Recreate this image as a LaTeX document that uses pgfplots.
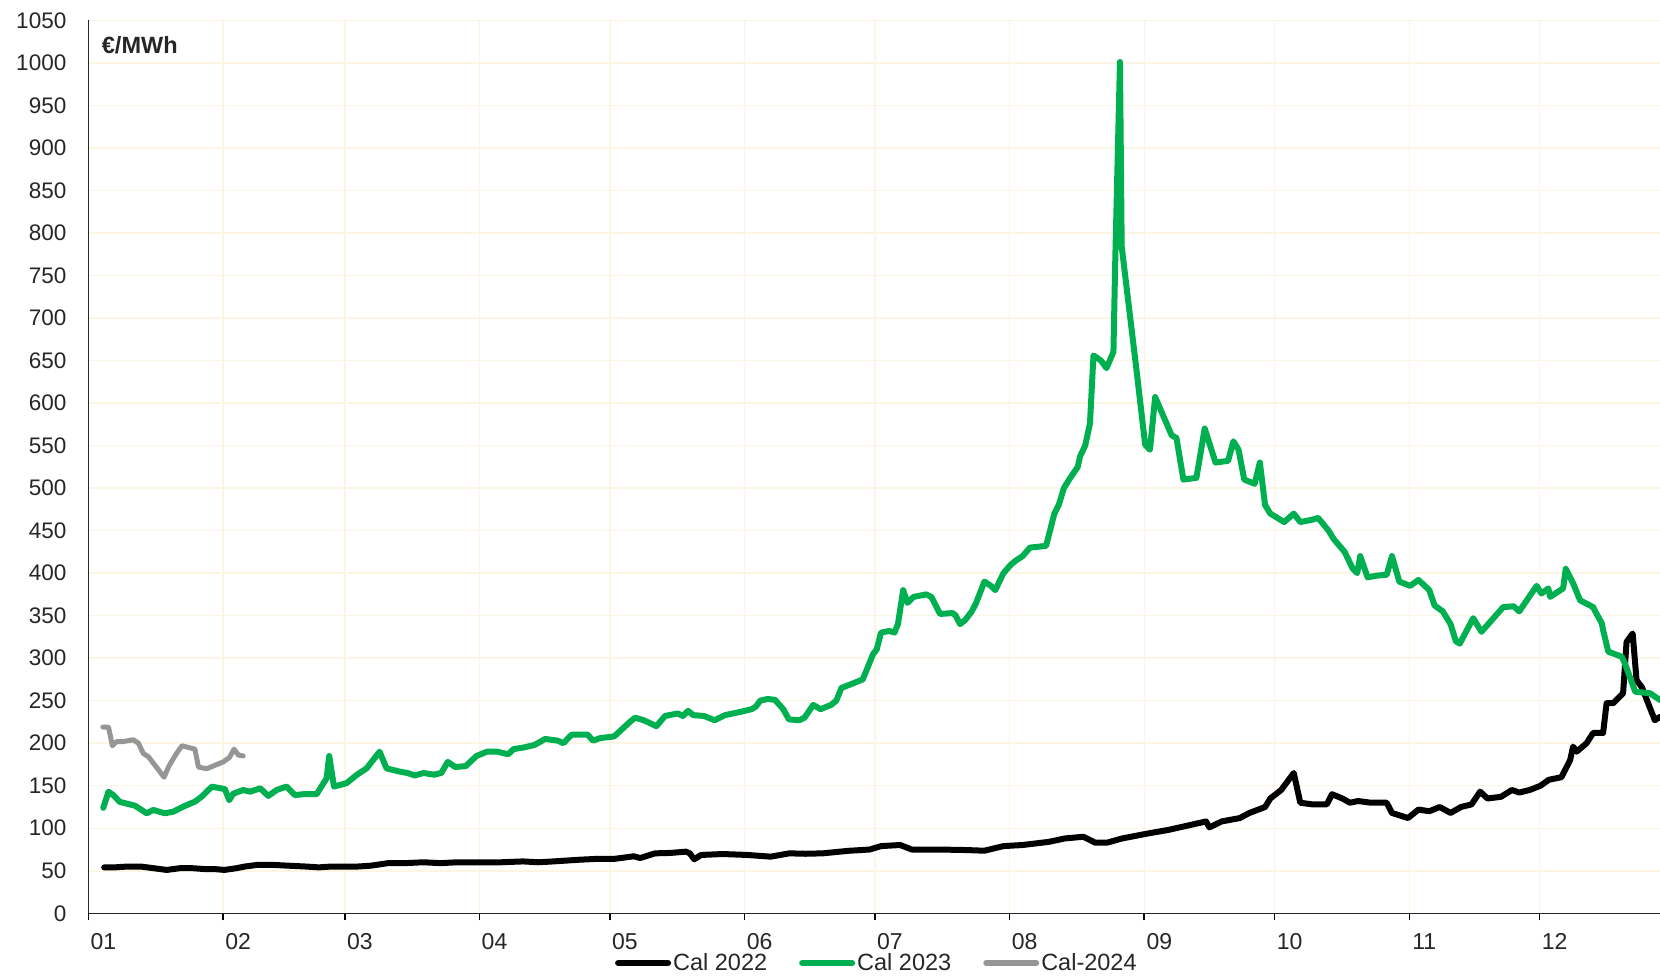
\documentclass[border=0pt]{standalone}
\usepackage{fontspec}
\setmainfont{Liberation Sans}
\usepackage{pgfplots}
\pgfplotsset{compat=1.18}
\definecolor{gridc}{RGB}{253,245,228}
\definecolor{calgreen}{RGB}{0,176,80}
\definecolor{calgray}{RGB}{150,150,150}
\definecolor{txt}{RGB}{38,38,38}
\begin{document}
\begin{tikzpicture}
\path[use as bounding box] (0,0) rectangle (1660pt,975pt);
\begin{axis}[
  at={(88.5pt,61.7pt)}, anchor=south west,
  scale only axis, width=1571.5pt, height=893pt,
  xmin=0, xmax=361.7, ymin=0, ymax=1050,
  axis x line=bottom, axis y line=left,
  axis line style={-, line width=1.6pt, color=black!85},
  xtick={0,31,59,90,120,151,181,212,243,273,304,334},
  xticklabels={01,02,03,04,05,06,07,08,09,10,11,12},
  ytick={0,50,...,1050},
  /pgf/number format/assume math mode=true,
  /pgf/number format/1000 sep={},
  grid=major, major grid style={gridc, line width=1.5pt},
  tick align=outside, major tick length=7pt,
  xtick style={black, line width=1.6pt},
  ytick style={draw=none},
  xticklabel style={font=\fontsize{23}{23}\selectfont, text=txt, anchor=north, inner sep=0pt, xshift=15pt, yshift=-13pt},
  yticklabel style={font=\fontsize{22.5}{22.5}\selectfont, text=txt, anchor=east, inner sep=0pt, xshift=-15pt},
  legend columns=3,
  legend style={at={(0.3351,-0.0557)}, anchor=west, draw=none, fill=none, inner sep=0pt, outer sep=0pt,
    font=\fontsize{23.5}{23.5}\selectfont, text=txt, nodes={inner sep=0pt},
    /tikz/every odd column/.append style={column sep=2pt},
    /tikz/every even column/.append style={column sep=32pt}},
  legend cell align=left,
  legend image code/.code={\draw[#1, line width=6pt, line cap=round] (0pt,0pt) -- (50pt,0pt);},
  clip=true,
]
\addplot[black, line width=6pt, line join=round, line cap=round] table {
3.6 54
6 54
9 55
12 55
15 53
18 51
21 53
24 53
26.8 52
29 52
31.3 51
34 53
36 55
39 57
42 57
46 56
50 55
53 54
56 55
59 55
62 55
65 56
69 59
73 59
77 60
81 59
85 60
90 60
95 60
100 61
103.5 60
107 61
110 62
113 63
117 64
121 64
125.5 67
127 65
130.4 70.5
134 71
137.5 72.5
138.4 70.5
139.4 63.5
141 68.6
146 69.7
151.6 68.6
157 66.6
161.3 70.5
165 70
169 70.5
175 73.5
179.8 75
182.4 79
186.8 80.3
189.5 75
195.6 75
201.8 74.4
206.2 73.6
210.6 79
215 80.3
221 84
224.7 88
229 90
231.7 83
234.4 83
237.9 88
244 94
248.5 98
252 102
257.2 108
258 101
260.8 108
265 112
267.2 118
270.8 125
272 135
274.5 145
277.4 165
278.9 130
281.8 128
285 128
286.2 140
288.6 135
290.3 130
292.2 132
295.2 130
298.8 130
300 118
303.7 112
306.1 122
308.6 120
311 125
313.5 118
315.9 125
318.3 128
320.3 143
322 135
325.1 137
327.6 145
329.3 142
331.7 145
334.2 150
336.1 157
339 160
341 180
341.7 196
342.5 190
344.8 200
346.3 212
348.6 212
349.4 247
350.9 247
353.2 258.7
354 319
355.4 329
356.3 274
357.5 266
360.5 227
361.7 231
};
\addlegendentry{Cal 2022}
\addplot[calgreen, line width=6pt, line join=round, line cap=round] table {
3.4 124
4.6 143
5.7 139
7.2 131
10.7 126.5
13.4 117.6
14.9 121.5
17.6 117.6
19.5 119.5
21.8 125.4
24.5 131.3
26 137
28.4 148.9
31.4 146
32.4 133
33.3 140.6
35.6 145
37.2 143
39.5 147
41.4 138
43.3 145
45.6 149
47.5 139
49.4 140
52.5 140
54.8 158.7
55.4 185
56.5 149
59.4 153
61.7 162.6
64 170.4
67 190
68.6 170.4
71.7 166.5
73.4 165
75.1 162
77.1 165
79.5 163
81.2 165
82.7 178
84.4 172
86.8 173
89.3 185
91.7 190
94.1 190
96.6 187
97.8 193
100.2 195
102.7 198
105.1 205
108 203
109.3 200
111.2 210
114.9 210
116.1 203
117.8 206
121 208
124.6 225
125.8 230
127.8 227
130.7 220
132.7 232
135.6 235
136.8 232
138 238
139.2 233
141.7 232
144.1 227
146.5 233
150.2 237
152.6 240
153.6 243
154.6 250
156.3 252
158 251
159.9 240
161.2 228
163.6 227
164.8 230
166.8 245
168.5 240
170.9 245
172.1 250
173.3 265
175.8 270
178.2 275
179.4 290
180.6 305
181.4 310
182.4 330
184.3 332
185.5 330
186.3 340
187.5 380
188.5 365
189.9 372
192.8 375
194 372
196 352
198.9 353
199.6 350
200.6 340
201.8 345
203.3 355
204.3 365
206.2 390
207.7 385
208.7 380
210.6 400
212.3 410
213.5 415
215 420
216.7 430
220.4 432
222.3 470
223.3 480
224.5 500
225.7 510
227.7 525
228.2 537
229.4 550
230.5 576
231.3 656
233 650
234.3 641
235.9 660
236.3 764
237.4 1001
237.8 784
241.2 639
243.2 551
244.3 545
245.5 607
249.3 562
250.4 559
252 510
255 512
256.9 570
259.4 530
262.3 532
263.5 555
264.7 545
266 510
268.4 505
269.6 530
270.8 480
272 470
275.2 460
277.4 470
278.9 460
281.8 463
283 465
285.4 450
286.6 440
289.1 425
291 405
292 400
292.7 420
294.4 395
296.4 397
298.8 398
300 420
301.7 390
304.2 385
306.1 392
308.6 380
309.8 362
311.7 355
313.5 340
314.7 320
315.6 317
318.7 347
320.6 331
325.6 360
328 361
329.3 355
333.3 385
334.4 376
336 382
336.4 372
339.4 382
340 405
341.7 388
343.3 368
346.3 360
347 353
348.3 341
348.6 333
349.8 307.6
352.9 301.7
353.6 294
356 260.5
359.4 258.7
361.7 250.8
};
\addlegendentry{Cal 2023}
\addplot[calgray, line width=5pt, line join=round, line cap=round] table {
3.3 219
4.6 219
5.5 197
6.5 202
8 202
10.3 204
11.5 200
12.6 188
13.8 184
17.4 160
18.4 172
20 186
21.5 197
24.5 193
25.3 172
27.2 170
31 178
32.4 183
33.5 193
34.5 186
35.6 185
};
\addlegendentry{Cal-2024}
\node[anchor=west, font=\bfseries\fontsize{23.5}{23.5}\selectfont, text=txt, inner sep=0pt] at (rel axis cs:0.0084,0.9718) {€/MWh};
\end{axis}
\end{tikzpicture}
\end{document}
